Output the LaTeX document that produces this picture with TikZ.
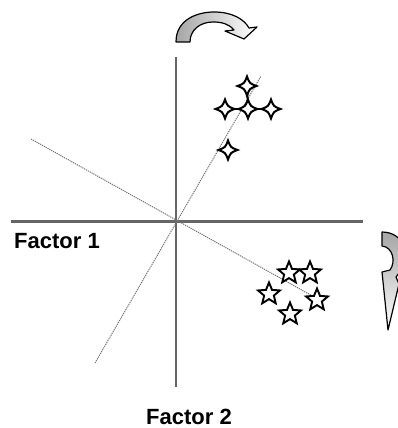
\documentclass[tikz,border=0pt]{standalone}
\usepackage{fontspec}
\setmainfont{Liberation Sans}
\usetikzlibrary{shapes.geometric}
\tikzset{
  axisline/.style={line width=2.6pt, black!60},
  guide/.style={line width=1pt, black!55, dash pattern=on 1.2pt off 0.9pt},
  fstar/.style={star, star points=5, star point ratio=2.25, minimum size=23pt,
                inner sep=0pt, draw=black, line width=1.9pt, fill=white},
  link/.style={line width=2pt, black},
  factortext/.style={inner sep=0pt, font=\fontsize{22}{26}\selectfont\bfseries},
  arrowbody/.style={draw=black, line width=1.2pt, line join=round},
  sparkle/.pic={\draw[line width=2pt, fill=white]
     (9.5,0) .. controls (2.6,-2.6) .. (0,-9.5) .. controls (-2.6,-2.6) .. (-9.5,0)
     .. controls (-2.6,2.6) .. (0,9.5) .. controls (2.6,2.6) .. cycle;}
}
\begin{document}
\begin{tikzpicture}[x=1pt, y=-1pt]
\useasboundingbox (0,0) rectangle (398,428);
\clip (0,0) rectangle (398,428);

% axes
\coordinate (hw) at (10.7,221.7);
\coordinate (he) at (362.7,221.7);
\coordinate (vn) at (176,57);
\coordinate (vs) at (176,387);
\draw[axisline] (hw) -- (he);
\draw[axisline] (vn) -- (vs);

% rotated (dotted) axes
\coordinate (g1a) at (31,139);
\coordinate (g1b) at (316,298);
\coordinate (g2a) at (95,363);
\coordinate (g2b) at (261,76);
\draw[guide] (g1a) -- (g1b);
\draw[guide] (g2a) -- (g2b);

% sparkle cluster
\coordinate (p0) at (247,86);
\coordinate (p1) at (225,109);
\coordinate (p2) at (248,109);
\coordinate (p3) at (271,109);
\coordinate (p4) at (228,150);
\draw[link] (p1) -- (p3);
\draw[link] (p0) -- (p2);
\foreach \p in {p0,p1,p2,p3,p4} \pic at (\p) {sparkle};

% star cluster
\node[fstar] (s1) at (289,273) {};
\node[fstar] (s2) at (310,273) {};
\node[fstar] (s3) at (269,294) {};
\node[fstar] (s4) at (317,300) {};
\node[fstar] (s5) at (290,314) {};

% curved arrow at top
\shadedraw[arrowbody, left color=black!35, middle color=black!10, right color=white]
  (176,42) .. controls (176,19) and (198,12) .. (214,12)
  .. controls (232,12) and (244,19) .. (249,28)
  -- (257,27) -- (244,39) -- (225,31) -- (234,30)
  .. controls (229,24) and (222,22) .. (213,22)
  .. controls (200,22) and (190,30) .. (190,42) -- cycle;

% curved arrow at right (cut by the frame)
\shadedraw[arrowbody, top color=black!35, middle color=white, bottom color=white]
  (382,232) .. controls (404,232) and (414,256) .. (396,277)
  -- (399,284) -- (388,330) -- (382,272) -- (390,270)
  .. controls (396,262) and (393,247) .. (382,246) -- cycle;

% labels
\node[factortext, anchor=base west] (f1) at (14,248.3) {Factor 1};
\node[factortext, anchor=base] (f2) at (189,424) {Factor 2};
\end{tikzpicture}
\end{document}
